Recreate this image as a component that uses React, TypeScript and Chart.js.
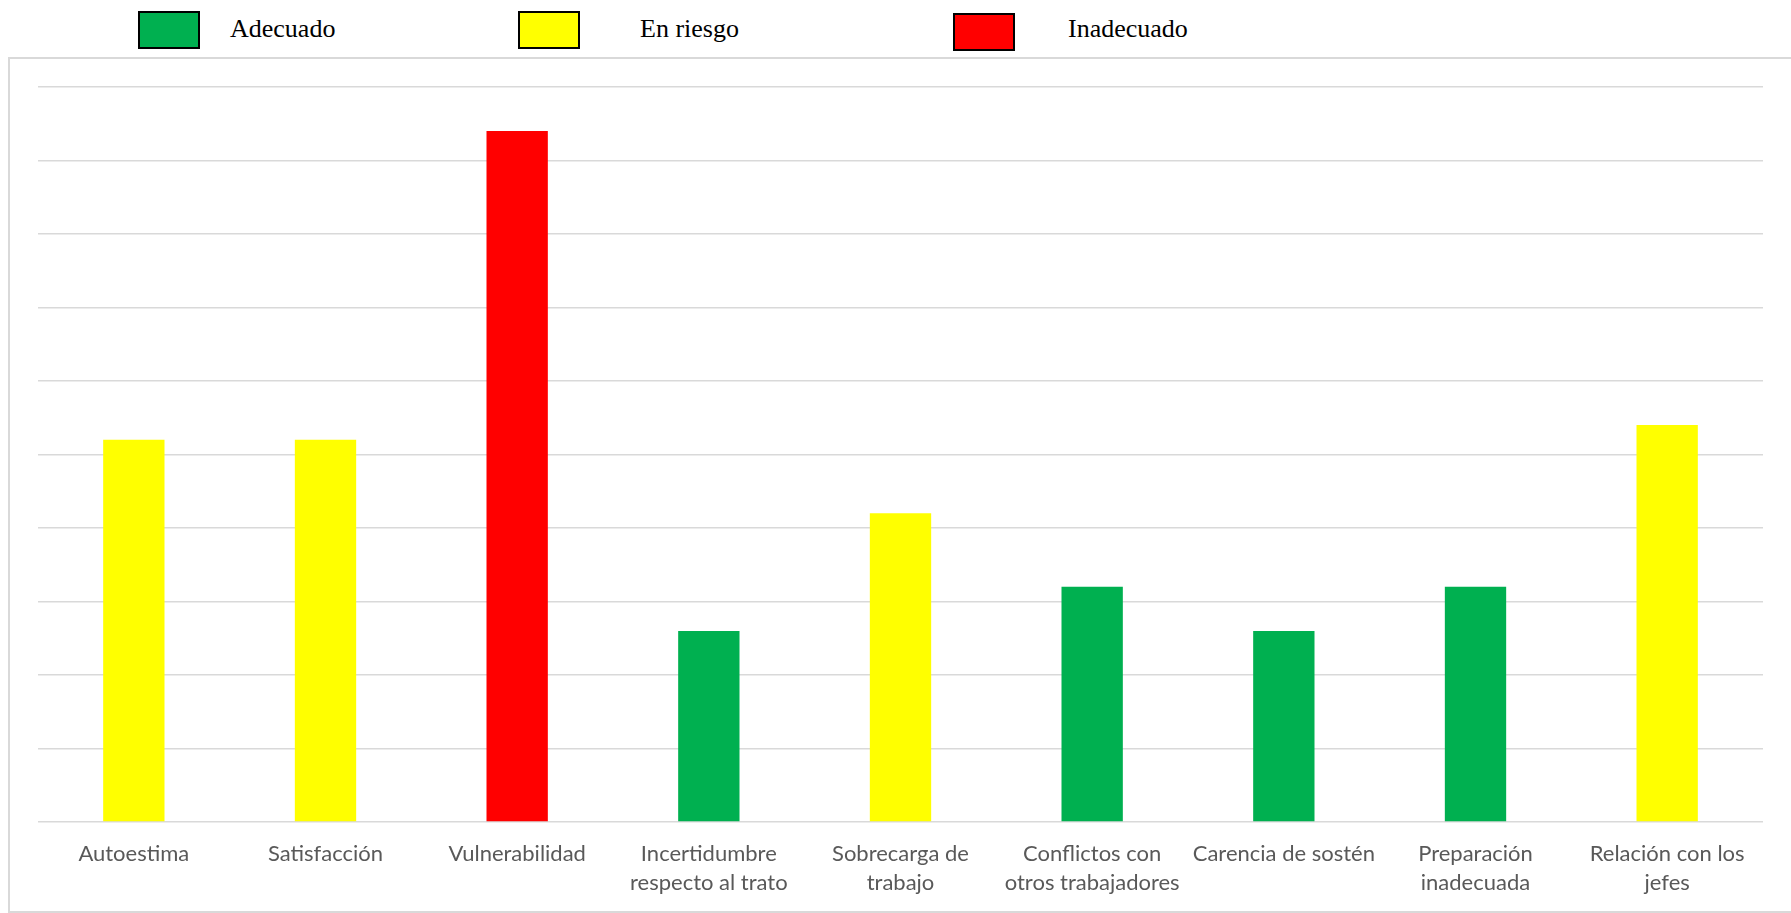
import React, { useEffect, useRef } from "react";
import { Chart, registerables } from "chart.js";

Chart.register(...registerables);

const categories: (string | string[])[] = [
  "Autoestima",
  "Satisfacción",
  "Vulnerabilidad",
  ["Incertidumbre", "respecto al trato"],
  ["Sobrecarga de", "trabajo"],
  ["Conflictos con", "otros trabajadores"],
  "Carencia de sostén",
  ["Preparación", "inadecuada"],
  ["Relación con los", "jefes"],
];

const values: number[] = [26, 26, 47, 13, 21, 16, 13, 16, 27];

const levels: string[] = [
  "En riesgo",
  "En riesgo",
  "Inadecuado",
  "Adecuado",
  "En riesgo",
  "Adecuado",
  "Adecuado",
  "Adecuado",
  "En riesgo",
];

const legendLabels: string[] = ["Adecuado", "En riesgo", "Inadecuado"];
const legendColors: string[] = ["#00B050", "#FFFF00", "#FF0000"];

const yMin = 0;
const yMax = 50;
const yStep = 5;

const colorFor = (lvl: string) => legendColors[legendLabels.indexOf(lvl)];

const legendPos = [
  { box: 138, boxTop: 11, text: 230 },
  { box: 518, boxTop: 11, text: 640 },
  { box: 953, boxTop: 13, text: 1068 },
];

export default function App() {
  const ref = useRef<HTMLCanvasElement | null>(null);

  useEffect(() => {
    if (!ref.current) return;
    const chart = new Chart(ref.current, {
      type: "bar",
      data: {
        labels: categories,
        datasets: [
          {
            data: values,
            backgroundColor: levels.map(colorFor),
            borderWidth: 0,
            barPercentage: 0.32,
            categoryPercentage: 1,
          },
        ],
      },
      options: {
        animation: false,
        responsive: false,
        maintainAspectRatio: false,
        layout: { padding: { left: 38, right: 28, top: 87, bottom: 0 } },
        plugins: { legend: { display: false }, tooltip: { enabled: false } },
        scales: {
          x: {
            grid: { display: false },
            border: { display: false },
            ticks: {
              color: "#595959",
              font: { family: "Lato", size: 22, lineHeight: 1.32 },
              maxRotation: 0,
              minRotation: 0,
              autoSkip: false,
              padding: 9,
            },
            afterFit: (axis: any) => {
              axis.height = 91;
            },
          },
          y: {
            min: yMin,
            max: yMax,
            ticks: { display: false, stepSize: yStep },
            border: { display: false },
            grid: { color: "#d9d9d9", lineWidth: 1.5, drawTicks: false },
            afterFit: (axis: any) => {
              axis.width = 0;
            },
          },
        },
      },
    });
    return () => chart.destroy();
  }, []);

  return (
    <div
      style={{
        position: "fixed",
        left: 0,
        top: 0,
        width: 1791,
        height: 913,
        overflow: "hidden",
        background: "#fff",
      }}
    >
      <div
        style={{
          position: "absolute",
          left: 8,
          top: 57,
          width: 1810,
          height: 856,
          boxSizing: "border-box",
          border: "2px solid #d9d9d9",
        }}
      />
      {legendLabels.map((lbl, i) => (
        <React.Fragment key={lbl}>
          <div
            style={{
              position: "absolute",
              left: legendPos[i].box,
              top: legendPos[i].boxTop,
              width: 62,
              height: 38,
              boxSizing: "border-box",
              border: "2px solid #000",
              background: legendColors[i],
            }}
          />
          <div
            style={{
              position: "absolute",
              left: legendPos[i].text,
              top: 13,
              height: 32,
              lineHeight: "32px",
              fontFamily: "'Liberation Serif', 'Times New Roman', serif",
              fontSize: 26,
              color: "#000",
              whiteSpace: "nowrap",
            }}
          >
            {lbl}
          </div>
        </React.Fragment>
      ))}
      <canvas
        ref={ref}
        width={1791}
        height={913}
        style={{ position: "absolute", left: 0, top: 0, width: 1791, height: 913 }}
      />
    </div>
  );
}
